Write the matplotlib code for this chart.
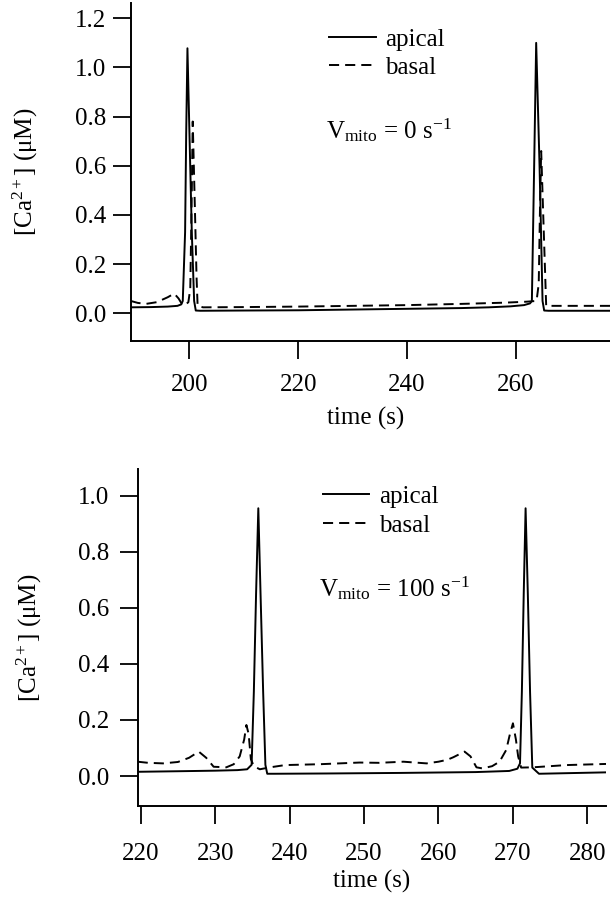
import matplotlib
matplotlib.use('Agg')
import matplotlib.pyplot as plt

plt.rcParams['font.family'] = ['Liberation Serif', 'DejaVu Serif']
plt.rcParams['mathtext.fontset'] = 'custom'
plt.rcParams['mathtext.rm'] = 'Liberation Serif'
plt.rcParams['mathtext.it'] = 'Liberation Serif:italic'
plt.rcParams['mathtext.default'] = 'regular'

# # Data
# top panel: V_mito = 0 s^-1
top_apical_t = [189.2, 193, 196, 197.8, 198.5, 198.77, 199.2, 199.4, 199.63, 200.0, 200.43,
                200.86, 201.16, 202, 210, 220, 230, 240, 250, 255, 259, 261.5, 262.6, 262.94,
                263.36, 263.73, 264.35, 264.9, 265.2, 266, 277.3]
top_apical = [0.024, 0.025, 0.027, 0.03, 0.036, 0.05, 0.33, 0.73, 1.078, 0.73, 0.33,
              0.05, 0.011, 0.010, 0.011, 0.012, 0.015, 0.018, 0.021, 0.024, 0.028, 0.033, 0.04, 0.05,
              0.6, 1.10, 0.6, 0.05, 0.011, 0.010, 0.010]

top_basal_t = [189.2, 190.5, 192, 194, 196, 197.2, 198, 198.6, 199.2, 199.8, 200.15, 200.4,
               200.6, 201.04, 201.3, 201.5, 202.5, 210, 220, 230, 240, 250, 258, 262, 263.8,
               264.2, 264.45, 264.65, 265.1, 265.57, 266.5, 277.3]
top_basal = [0.05, 0.042, 0.038, 0.045, 0.065, 0.08, 0.06, 0.038, 0.034, 0.045, 0.1, 0.45,
             0.78, 0.39, 0.15, 0.03, 0.024, 0.025, 0.027, 0.03, 0.033, 0.038, 0.043, 0.047, 0.05,
             0.12, 0.45, 0.66, 0.35, 0.03, 0.03, 0.03]

# bottom panel: V_mito = 100 s^-1
bot_apical_t = [219.6, 225, 230, 233, 234.3, 234.9, 235.2, 235.5, 235.8, 236.1, 236.45, 236.75,
                237.0, 238, 245, 255, 265, 269.5, 270.6, 270.95, 271.2, 271.45, 271.7, 272.0,
                272.3, 272.6, 273.5, 282.5]
bot_apical = [0.015, 0.017, 0.019, 0.021, 0.024, 0.04, 0.3, 0.65, 0.955, 0.65, 0.3, 0.04,
              0.008, 0.008, 0.009, 0.011, 0.014, 0.018, 0.026, 0.045, 0.3, 0.65, 0.955, 0.65,
              0.3, 0.03, 0.008, 0.013]

bot_basal_t = [219.6, 221, 223, 225, 226.5, 227.8, 228.8, 229.8, 231.5, 232.5, 233.3, 233.9,
               234.2, 234.5, 234.8, 235.2, 236.0, 237.4, 239.4, 244, 249.4, 252, 255.3, 258.4,
               260.0, 261.2, 262.0, 263.5, 264.3, 265.1, 265.9, 267.2, 268.2, 269.1, 269.6,
               270.0, 270.4, 270.7, 271.1, 272.7, 277.2, 282.5]
bot_basal = [0.051, 0.047, 0.045, 0.05, 0.065, 0.087, 0.065, 0.033, 0.031, 0.042, 0.07, 0.13,
             0.182, 0.15, 0.06, 0.035, 0.024, 0.031, 0.039, 0.042, 0.048, 0.047, 0.051, 0.045,
             0.051, 0.058, 0.067, 0.087, 0.07, 0.031, 0.027, 0.035, 0.051, 0.093, 0.15,
             0.188, 0.13, 0.07, 0.03, 0.031, 0.039, 0.043]

top_xticks = [200, 220, 240, 260]
top_yticks = [0.0, 0.2, 0.4, 0.6, 0.8, 1.0, 1.2]
bot_xticks = [220, 230, 240, 250, 260, 270, 280]
bot_yticks = [0.0, 0.2, 0.4, 0.6, 0.8, 1.0]

FS = 18
W, H = 610, 900

fig = plt.figure(figsize=(6.1, 9), dpi=100)


def px(x0, y0, x1, y1):
    # pixel box -> figure fraction [left, bottom, width, height]
    return [x0 / W, 1 - y1 / H, (x1 - x0) / W, (y1 - y0) / H]


def style(ax, xticks, yticks, xpad, ypad):
    for s in ['top', 'right']:
        ax.spines[s].set_visible(False)
    for s in ['left', 'bottom']:
        ax.spines[s].set_linewidth(1.4)
    ax.set_xticks(xticks)
    ax.set_yticks(yticks)
    ax.set_yticklabels([f'{v:.1f}' for v in yticks])
    ax.tick_params(direction='out', length=13, width=1.3, labelsize=FS)
    ax.tick_params(axis='x', pad=xpad)
    ax.tick_params(axis='y', pad=ypad)
    ax.set_xlabel('time (s)', fontsize=FS)
    ax.set_ylabel('[Ca$^{2+}$] (μM)', fontsize=FS)


def draw(ax, ta, a, tb, b):
    ax.plot(ta, a, color='black', lw=1.4, label='apical')
    ax.plot(tb, b, color='black', lw=1.4, dashes=(5.2, 3.1), label='basal')


def add_legend(ax, x, y):
    ax.legend(loc='upper left', bbox_to_anchor=(x / W, 1 - y / H),
              bbox_transform=fig.transFigure, frameon=False, fontsize=FS,
              handlelength=1.87, handletextpad=0.39, labelspacing=0.24,
              borderpad=0, borderaxespad=0)


# # Top panel
ax1 = fig.add_axes(px(130.7, 3.3, 610, 341))
draw(ax1, top_apical_t, top_apical, top_basal_t, top_basal)
ax1.set_xlim(189.2, 277.3)
ax1.set_ylim(-0.113, 1.261)
style(ax1, top_xticks, top_yticks, 11, 4.5)
ax1.xaxis.set_label_coords(0.49, -0.195)
ax1.yaxis.set_label_coords(-0.19, 0.5)
add_legend(ax1, 328.8, 28.1)
fig.text(326 / W, 1 - 138 / H, '$V_{mito}$ = 0 s$^{-1}$', fontsize=FS,
         ha='left', va='baseline')

# # Bottom panel
ax2 = fig.add_axes(px(137.7, 469.3, 606, 806))
draw(ax2, bot_apical_t, bot_apical, bot_basal_t, bot_basal)
ax2.set_xlim(219.6, 282.5)
ax2.set_ylim(-0.107, 1.094)
style(ax2, bot_xticks, bot_yticks, 14, 7.5)
ax2.xaxis.set_label_coords(0.5, -0.19)
ax2.yaxis.set_label_coords(-0.2, 0.5)
add_legend(ax2, 322.6, 485.5)
fig.text(318.7 / W, 1 - 596.7 / H, '$V_{mito}$ = 100 s$^{-1}$', fontsize=FS,
         ha='left', va='baseline')

fig.savefig('out.png', dpi=100)
